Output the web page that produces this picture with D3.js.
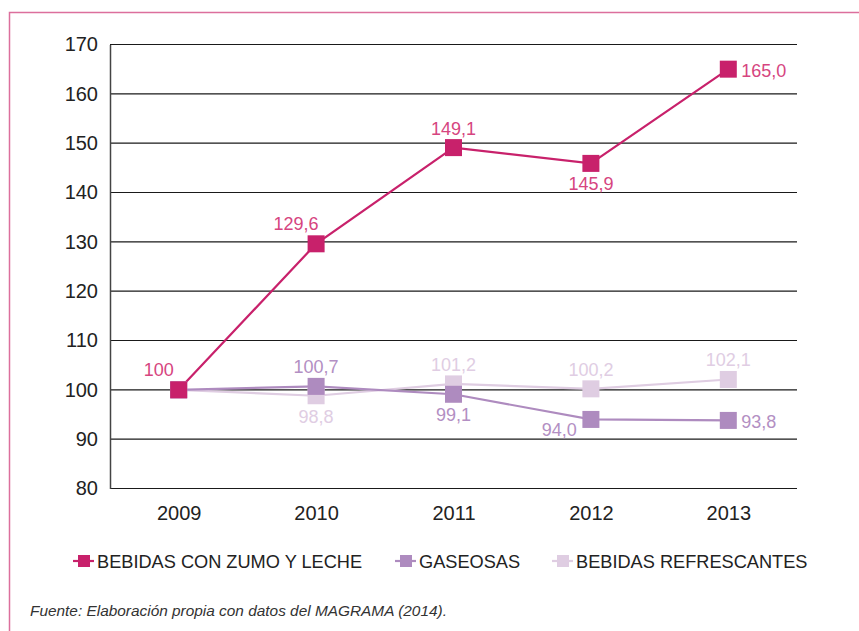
<!DOCTYPE html>
<html>
<head>
<meta charset="utf-8">
<script src="https://cdn.jsdelivr.net/npm/d3@7"></script>
<style>
  body { margin: 0; background: #fff; }
  svg text { font-family: "Liberation Sans", Arial, sans-serif; }
</style>
</head>
<body>
<div id="chart"></div>
<script>
const years = ["2009", "2010", "2011", "2012", "2013"];
const yTicks = [80, 90, 100, 110, 120, 130, 140, 150, 160, 170];

const zumo = [100, 129.6, 149.1, 145.9, 165.0];
const gaseosas = [100, 100.7, 99.1, 94.0, 93.8];
const refrescantes = [100, 98.8, 101.2, 100.2, 102.1];

const zumoLabels = ["100", "129,6", "149,1", "145,9", "165,0"];
const gaseosasLabels = [null, "100,7", "99,1", "94,0", "93,8"];
const refrescantesLabels = [null, "98,8", "101,2", "100,2", "102,1"];

// where each value label sits relative to its marker
const zumoPlace = ["aboveLeft", "aboveLeft", "above", "below", "right"];
const gaseosasPlace = [null, "above", "below", "belowLeft", "right"];
const refrescantesPlace = [null, "below", "above", "above", "above"];

const seriesNames = ["BEBIDAS CON ZUMO Y LECHE", "GASEOSAS", "BEBIDAS REFRESCANTES"];

const W = 859, H = 631;
const svg = d3.select("#chart").append("svg")
  .attr("width", W)
  .attr("height", H);

// pink frame
svg.append("path")
  .attr("d", "M9.5,640 L9.5,12.5 L870,12.5")
  .attr("fill", "none")
  .attr("stroke", "#dc6f9d")
  .attr("stroke-width", 1.5);

var x = d3.scalePoint().domain(years).range([110, 797]).padding(0.5);
var y = d3.scaleLinear().domain([80, 170]).range([488.5, 44.5]);

// gridlines
svg.append("g").selectAll("line")
  .data(yTicks)
  .enter().append("line")
  .attr("x1", 110).attr("x2", 797)
  .attr("y1", d => y(d)).attr("y2", d => y(d))
  .attr("stroke", "#1a1a1a")
  .attr("stroke-width", 1.2);

var yAxis = svg.append("g")
  .attr("transform", "translate(110,0)")
  .call(d3.axisLeft(y).tickValues(yTicks).tickSize(0).tickPadding(12));
yAxis.select(".domain").attr("stroke", "#444").attr("stroke-width", 1.5);
yAxis.selectAll("text").style("font-size", "20px").attr("fill", "#222");

var xAxis = svg.append("g")
  .attr("transform", "translate(0,488.5)")
  .call(d3.axisBottom(x).tickSize(0).tickPadding(17));
xAxis.select(".domain").remove();
xAxis.selectAll("text").style("font-size", "20px").attr("fill", "#222");

var series = [
  { values: refrescantes, labels: refrescantesLabels, place: refrescantesPlace, color: "#dfcde2", text: "#e0cde3" },
  { values: gaseosas, labels: gaseosasLabels, place: gaseosasPlace, color: "#ae8bbf", text: "#b38fc3" },
  { values: zumo, labels: zumoLabels, place: zumoPlace, color: "#c8216b", text: "#d6457f" }
];

var line = d3.line()
  .x((d, i) => x(years[i]))
  .y(d => y(d));

var ms = 17;

series.forEach(function (s) {
  svg.append("path")
    .datum(s.values)
    .attr("d", line)
    .attr("fill", "none")
    .attr("stroke", s.color)
    .attr("stroke-width", 2.2);
});

series.forEach(function (s) {
  svg.append("g").selectAll("rect")
    .data(s.values)
    .enter().append("rect")
    .attr("x", (d, i) => x(years[i]) - ms / 2)
    .attr("y", d => y(d) - ms / 2)
    .attr("width", ms).attr("height", ms)
    .attr("fill", s.color);
});

function labelPos(p, cx, cy) {
  if (p === "above") return [cx, cy - 13, "middle"];
  if (p === "aboveLeft") return [cx - 20, cy - 14, "middle"];
  if (p === "below") return [cx, cy + 27, "middle"];
  if (p === "belowLeft") return [cx - 14, cy + 17, "end"];
  return [cx + 13, cy + 8, "start"];
}

series.forEach(function (s) {
  s.values.forEach(function (v, i) {
    if (!s.labels[i]) return;
    var pos = labelPos(s.place[i], x(years[i]), y(v));
    svg.append("text")
      .attr("x", pos[0]).attr("y", pos[1])
      .attr("text-anchor", pos[2])
      .style("font-size", "18px")
      .attr("fill", s.text)
      .text(s.labels[i]);
  });
});

// legend
var legendX = [73, 395, 552];
var legendColors = ["#c8216b", "#ae8bbf", "#dfcde2"];
var legend = svg.append("g").attr("transform", "translate(0,561)");
seriesNames.forEach(function (name, i) {
  var g = legend.append("g").attr("transform", "translate(" + legendX[i] + ",0)");
  g.append("line")
    .attr("x1", 0).attr("x2", 21)
    .attr("stroke", legendColors[i]).attr("stroke-width", 2.2);
  g.append("rect")
    .attr("x", 5).attr("y", -6).attr("width", 12).attr("height", 12)
    .attr("fill", legendColors[i]);
  g.append("text")
    .attr("x", 24).attr("y", 7)
    .style("font-size", "18.2px")
    .attr("fill", "#222")
    .text(name);
});

svg.append("text")
  .attr("x", 30).attr("y", 616)
  .style("font-size", "15.4px")
  .style("font-style", "italic")
  .attr("fill", "#333")
  .text("Fuente: Elaboración propia con datos del MAGRAMA (2014).");
</script>
</body>
</html>
